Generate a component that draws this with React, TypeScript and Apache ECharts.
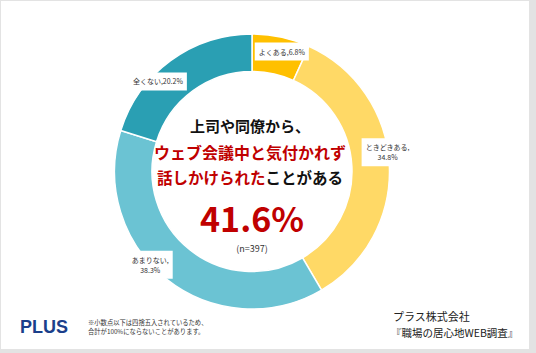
import React, { useEffect, useRef } from "react";
import * as echarts from "echarts";

const categories = ["よくある", "ときどきある", "あまりない", "全くない"];
const values = [6.8, 34.8, 38.3, 20.2];
const wrappedLabels = [false, true, true, false];
const colors = ["#FFC000", "#FFD966", "#6BC3D3", "#2A9FB3"];
const labelShift = [
  [4, -1],
  [14, -13],
  [-26, -2],
  [-22, 8],
];
const headline1 = "上司や同僚から、";
const headline2 = "ウェブ会議中と気付かれず";
const headline3Red = "話しかけられた";
const headline3Black = "ことがある";
const bigValue = "41.6%";
const sampleText = "(n=397)";
const noteLines = ["※小数点以下は四捨五入されているため、", "合計が100%にならないことがあります。"];
const sourceLines = ["プラス株式会社", "『職場の居心地WEB調査』"];
const brand = "PLUS";

const JP = '"Noto Sans CJK JP", "Noto Sans", sans-serif';

export default function App() {
  const ref = useRef<HTMLDivElement>(null);
  useEffect(() => {
    document.body.style.margin = "0";
    if (!ref.current) return;
    const chart = echarts.init(ref.current, null, { renderer: "svg" });
    const cx = 250;
    chart.setOption({
      animation: false,
      backgroundColor: "#e3e3e3",
      graphic: [
        {
          type: "rect",
          z: -5,
          shape: { x: 1, y: 1, width: 528, height: 348 },
          style: { fill: "#ffffff" },
        },
        {
          type: "text",
          z: 10,
          x: cx,
          y: 125,
          style: {
            text: headline1,
            fill: "#111",
            font: `bold 15px ${JP}`,
            align: "center",
            verticalAlign: "middle",
          },
        },
        {
          type: "text",
          z: 10,
          x: cx,
          y: 152,
          style: {
            text: headline2,
            fill: "#C00000",
            font: `bold 16px ${JP}`,
            align: "center",
            verticalAlign: "middle",
          },
        },
        {
          type: "text",
          z: 10,
          x: cx,
          y: 177,
          style: {
            text: `{r|${headline3Red}}{b|${headline3Black}}`,
            align: "center",
            verticalAlign: "middle",
            rich: {
              r: { fill: "#C00000", fontSize: 15.5, fontWeight: "bold", fontFamily: JP },
              b: { fill: "#111", fontSize: 15.5, fontWeight: "bold", fontFamily: JP },
            },
          },
        },
        {
          type: "text",
          z: 10,
          x: cx + 2,
          y: 217,
          style: {
            text: bigValue,
            fill: "#C00000",
            font: `bold 34px ${JP}`,
            lineHeight: 34,
            align: "center",
            verticalAlign: "middle",
          },
        },
        {
          type: "text",
          z: 10,
          x: cx + 2,
          y: 248.5,
          style: {
            text: sampleText,
            fill: "#333",
            font: `9px ${JP}`,
            lineHeight: 10,
            align: "center",
            verticalAlign: "middle",
          },
        },
        {
          type: "text",
          z: 10,
          x: 20,
          y: 327,
          style: {
            text: brand,
            fill: "#1B3F8B",
            font: 'bold 18px "Liberation Sans", Arial, sans-serif',
            align: "left",
            verticalAlign: "middle",
          },
        },
        {
          type: "text",
          z: 10,
          x: 88,
          y: 322.5,
          style: {
            text: noteLines[0],
            fill: "#333",
            font: `6.3px ${JP}`,
            lineHeight: 7,
            align: "left",
            verticalAlign: "middle",
          },
        },
        {
          type: "text",
          z: 10,
          x: 88,
          y: 331,
          style: {
            text: noteLines[1],
            fill: "#333",
            font: `6.3px ${JP}`,
            lineHeight: 7,
            align: "left",
            verticalAlign: "middle",
          },
        },
        {
          type: "text",
          z: 10,
          x: 393,
          y: 316,
          style: {
            text: sourceLines[0],
            fill: "#222",
            font: `11px ${JP}`,
            align: "left",
            verticalAlign: "middle",
          },
        },
        {
          type: "text",
          z: 10,
          x: 391,
          y: 332,
          style: {
            text: sourceLines[1],
            fill: "#222",
            font: `10.5px ${JP}`,
            align: "left",
            verticalAlign: "middle",
          },
        },
      ],
      series: [
        {
          type: "pie",
          center: [252, 171.5],
          radius: [100, 137.5],
          startAngle: 90,
          clockwise: true,
          avoidLabelOverlap: false,
          itemStyle: { borderColor: "#ffffff", borderWidth: 1.5 },
          label: {
            show: true,
            position: "inside",
            color: "#333",
            fontSize: 7,
            fontFamily: JP,
            lineHeight: 10,
            align: "center",
            backgroundColor: "#ffffff",
            padding: [4, 4],
            formatter: (p: any) =>
              `${p.name},${wrappedLabels[p.dataIndex] ? "\n" : ""}${p.value}%`,
          },
          labelLayout: (p: any) => ({
            dx: labelShift[p.dataIndex][0],
            dy: labelShift[p.dataIndex][1],
          }),
          emphasis: { disabled: true },
          data: categories.map((c, i) => ({
            name: c,
            value: values[i],
            itemStyle: { color: colors[i] },
          })),
        },
      ],
    });
    return () => chart.dispose();
  }, []);
  return <div ref={ref} style={{ position: "absolute", left: 0, top: 0, width: 536, height: 353 }} />;
}
